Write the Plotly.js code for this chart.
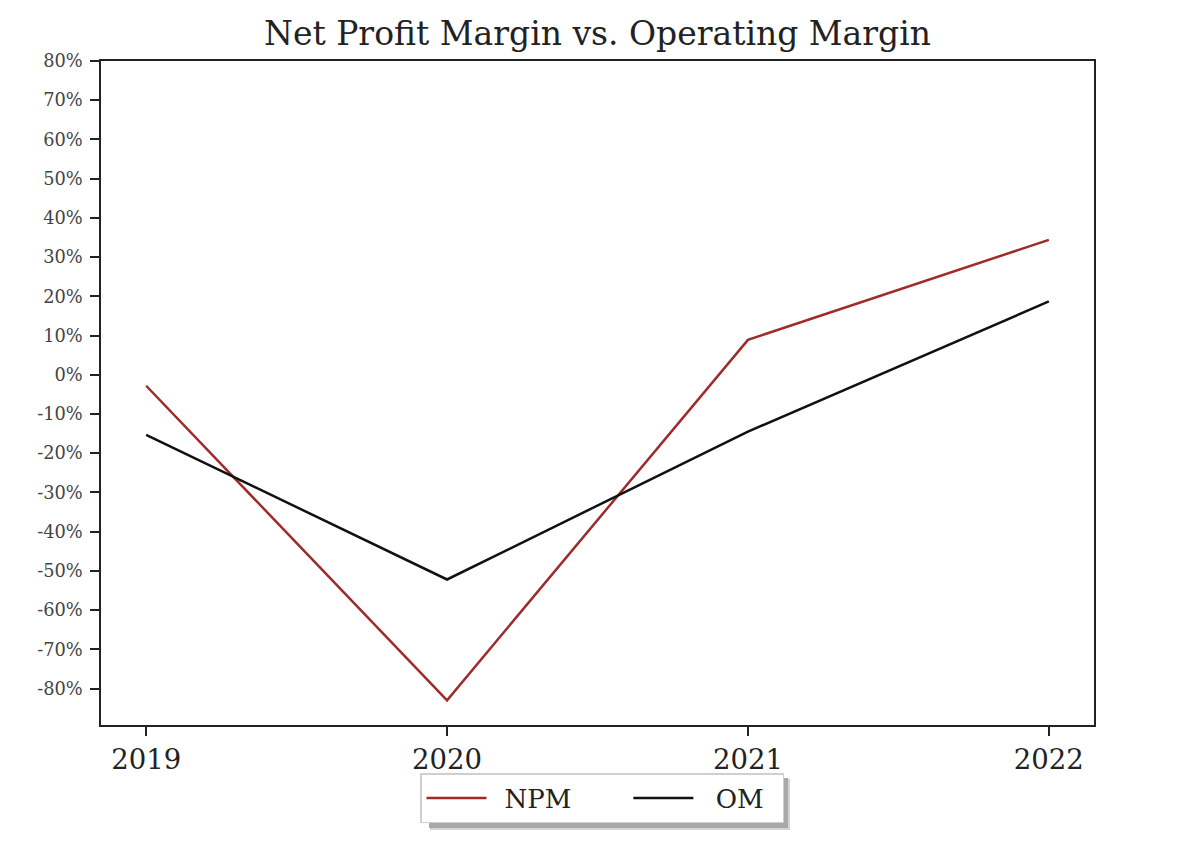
<!DOCTYPE html>
<html>
<head>
<meta charset="utf-8">
<script src="https://cdn.plot.ly/plotly-3.0.1.min.js"></script>
<style>html,body{margin:0;padding:0;background:#fff;}#chart{width:1186px;height:843px;}</style>
</head>
<body>
<div id="chart"></div>
<script>
const years = ['2019', '2020', '2021', '2022'];
const npm = [-2.8, -83.0, 8.9, 34.4];
const om = [-15.3, -52.2, -14.5, 18.7];
const yTickVals = [80, 70, 60, 50, 40, 30, 20, 10, 0, -10, -20, -30, -40, -50, -60, -70, -80];

const traces = [
  {x: years, y: npm, type: 'scatter', mode: 'lines', name: '\u2002NPM\u2003\u2003',
   line: {color: '#a02a2a', width: 2.5}},
  {x: years, y: om, type: 'scatter', mode: 'lines', name: '\u2002\u2006OM\u2004\u2006',
   line: {color: '#111111', width: 2.5}}
];

const layout = {
  width: 1186, height: 843,
  margin: {l: 101, r: 92, t: 61, b: 118},
  paper_bgcolor: '#fff', plot_bgcolor: '#fff',
  font: {family: 'DejaVu Serif', color: '#222'},
  title: {text: 'Net Profit Margin vs. Operating Margin', font: {size: 33, color: '#222'},
          x: 0.5, xanchor: 'center', y: 1 - 33/843, yanchor: 'middle', xref: 'paper', yref: 'container'},
  xaxis: {type: 'category', range: [-0.15, 3.15], showgrid: false, zeroline: false,
          showline: true, mirror: true, linecolor: '#222', linewidth: 1.5,
          ticks: 'outside', ticklen: 9, tickwidth: 1.5, tickcolor: '#222',
          tickfont: {size: 27.5, color: '#222'}},
  yaxis: {range: [-89.3, 80], showgrid: false, zeroline: false,
          showline: true, mirror: true, linecolor: '#222', linewidth: 1.5,
          ticks: 'outside', ticklen: 9, tickwidth: 1.5, tickcolor: '#222',
          ticklabelstandoff: 4,
          tickvals: yTickVals, ticktext: yTickVals.map(v => v + '%'),
          tickfont: {size: 17.8, color: '#444'}},
  showlegend: true,
  legend: {orientation: 'h', x: 0.5 + 4.5 / 993, xanchor: 'center', y: (725 - 773) / 664, yanchor: 'top',
           bgcolor: '#fff', bordercolor: '#cfcfcf', borderwidth: 1.5,
           font: {size: 26, color: '#222'}, itemwidth: 60},
  shapes: [
    {type: 'rect', xref: 'paper', yref: 'paper', layer: 'below',
     x0: (430 - 101) / 993, x1: (790 - 101) / 993,
     y0: (725 - 830) / 664, y1: (725 - 779) / 664,
     fillcolor: '#d4d4d4', line: {width: 0}},
    {type: 'rect', xref: 'paper', yref: 'paper', layer: 'below',
     x0: (429 - 101) / 993, x1: (788 - 101) / 993,
     y0: (725 - 828) / 664, y1: (725 - 778) / 664,
     fillcolor: '#a8a8a8', line: {width: 0}}
  ]
};

Plotly.newPlot('chart', traces, layout, {displayModeBar: false});
</script>
</body>
</html>
